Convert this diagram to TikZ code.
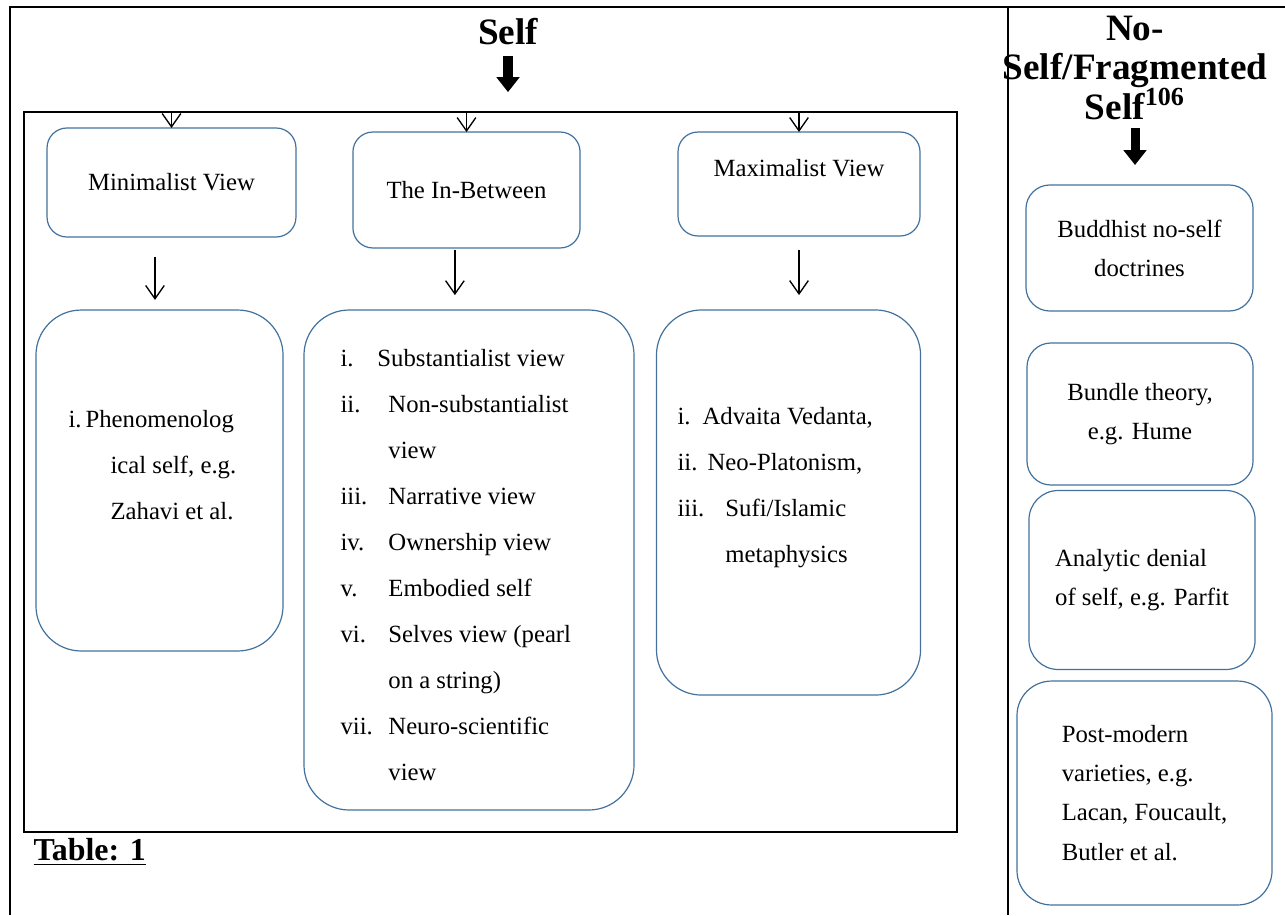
\documentclass[tikz,border=0pt]{standalone}
\usepackage{fontspec}
\setmainfont{Liberation Serif}
\usepackage{tikz}
\usetikzlibrary{arrows.meta}
\usetikzlibrary{positioning}
\definecolor{boxblue}{RGB}{65,113,156}

\tikzset{
  pill/.style={draw=boxblue, line width=0.45pt, rounded corners=7.5pt, inner sep=0pt, outer sep=0pt},
  bigpill/.style={pill, rounded corners=17pt},
  body/.style={font=\fontsize{9.3}{17.3}\selectfont, inner sep=0pt},
  rbody/.style={font=\fontsize{9.3}{14.7}\selectfont},
  head/.style={font=\bfseries\fontsize{14}{14.5}\selectfont, inner sep=0pt},
  thinarr/.style={-{Straight Barb[length=5pt,width=7pt]}, line width=0.5pt},
  fatarr/.style={-{Triangle[length=5.6pt,width=8.4pt]}, line width=3.4pt},
  rule/.style={line width=1pt}
}

\begin{document}
\begin{tikzpicture}[x=0.376pt, y=-0.376pt]
    \useasboundingbox (0,0) rectangle (1285,915);

    \draw[rule] (1285,7) -- (10,7) -- (10,915);
    \draw[rule] (1008,7) -- (1008,915);
    \node[draw, rule, minimum width=350.8pt, minimum height=270.7pt, inner sep=0pt, outer sep=0pt] (inner) at (490.5,472) {};

    \node[head] (self) at (508,32) {Self};
    \node[head, align=center] (noself) at (1135,68) {No-\\Self/Fragmented\\[-0.8pt]Self\textsuperscript{106}};

    \node[pill, body, minimum width=93.6pt, minimum height=41pt] (mini) at (171.5,182.5) {Minimalist View};
    \node[pill, body, minimum width=85.4pt, minimum height=43.6pt] (between) at (466.5,190) {The In-Between};
    \node[pill, minimum width=91pt, minimum height=39.1pt] (maxi) at (799,184) {};
    \node[body] (maxitxt) at (799,168) {Maximalist View};

    \node[bigpill, minimum width=92.9pt, minimum height=128.2pt] (phen) at (159.5,480.5) {};
    \node[body, align=left, anchor=west] (phentxt) at (68,465)
      {\makebox[6.4pt][l]{i.}Phenomenolog\\ \hspace*{15.8pt}ical self, e.g.\\ \hspace*{15.8pt}Zahavi et al.};

    \node[bigpill, minimum width=124.1pt, minimum height=188pt] (list) at (469,560) {};
    \node[body, align=left, anchor=west] (listtxt) at (340,565)
      {\makebox[13.9pt][l]{i.}Substantialist view\\
       \makebox[18pt][l]{ii.}Non-substantialist\\
       \hspace*{18pt}view\\
       \makebox[18pt][l]{iii.}Narrative view\\
       \makebox[18pt][l]{iv.}Ownership view\\
       \makebox[18pt][l]{v.}Embodied self\\
       \makebox[18pt][l]{vi.}Selves view (pearl\\
       \hspace*{18pt}on a string)\\
       \makebox[18pt][l]{vii.}Neuro-scientific\\
       \hspace*{18pt}view};

    \node[bigpill, minimum width=99.3pt, minimum height=144.8pt] (maxilist) at (788.5,502.5) {};
    \node[body, align=left, anchor=west] (maxilisttxt) at (677,488)
      {\makebox[9.4pt][l]{i.}Advaita Vedanta,\\
       \makebox[11.3pt][l]{ii.}Neo-Platonism,\\
       \makebox[18pt][l]{iii.}Sufi/Islamic\\
       \hspace*{18pt}metaphysics};

    \node[pill, rbody, rounded corners=9pt, align=center, minimum width=85.4pt, minimum height=47.4pt] (budd) at (1139.5,248) {Buddhist no-self\\doctrines};
    \node[pill, rbody, rounded corners=9pt, align=center, minimum width=85pt, minimum height=53.4pt] (bundle) at (1140,414) {Bundle theory,\\e.g. Hume};
    \node[pill, rbody, rounded corners=11pt, align=left, minimum width=85pt, minimum height=67.3pt] (analytic) at (1142,580) {Analytic denial\\of self, e.g. Parfit};
    \node[pill, rbody, rounded corners=13pt, align=left, minimum width=95.9pt, minimum height=84.2pt] (post) at (1144.5,793) {Post-modern\\varieties, e.g.\\Lacan, Foucault,\\Butler et al.};

    \node[font=\bfseries\fontsize{12}{14}\selectfont, anchor=west, inner sep=0pt] (tab) at (33,852) {\underline{Table: 1}};

    \draw[fatarr, shorten <=4pt, shorten >=7.5pt] (self.south) -- (inner.north -| self.south);
    \draw[fatarr, shorten <=3pt, shorten >=7.5pt] (noself.south) -- (noself.south |- budd.north);

    \draw[thinarr] (inner.north -| mini.north) -- (mini.north);
    \draw[thinarr] (inner.north -| between.north) -- (between.north);
    \draw[thinarr] (inner.north -| maxi.north) -- (maxi.north);

    \draw[thinarr, shorten <=7.5pt, shorten >=3.8pt] ([xshift=-1.7pt]mini.south -| phen.north) -- ([xshift=-1.7pt]phen.north);
    \draw[thinarr, shorten <=0.8pt, shorten >=5.6pt] ([xshift=-5.3pt]between.south -| list.north) -- ([xshift=-5.3pt]list.north);
    \draw[thinarr, shorten <=5.3pt, shorten >=5.6pt] (maxi.south) -- (maxi.south |- maxilist.north);
\end{tikzpicture}
\end{document}
